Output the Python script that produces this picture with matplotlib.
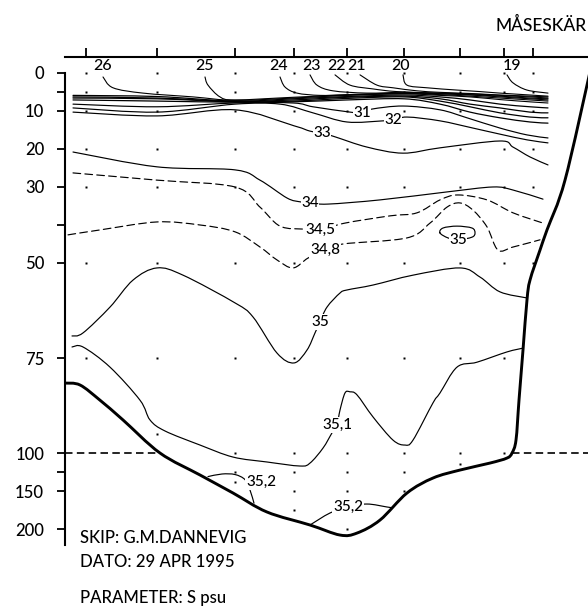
import numpy as np
import matplotlib
matplotlib.use("Agg")
import matplotlib.pyplot as plt
from matplotlib.path import Path
from matplotlib.patches import PathPatch

plt.rcParams['font.family'] = ['Lato', 'DejaVu Sans']
plt.rcParams['font.weight'] = 'medium'

# ---------------- data: section Måseskär, salinity (psu) ----------------
# distance along section (nm) of the CTD stations
stations = [2.1, 9.2, 17.0, 22.9, 28.2, 33.9, 39.5, 43.9, 46.8]
# sampled depths (m) at each station
sample_depths = [
    [0, 5, 10, 20, 30, 50, 75],
    [0, 5, 10, 20, 30, 50, 75, 95],
    [0, 5, 10, 20, 30, 50, 75, 100, 125, 138],
    [0, 5, 10, 20, 30, 50, 75, 100, 125, 150, 175],
    [0, 5, 10, 20, 30, 50, 75, 100, 125, 150, 200],
    [0, 5, 10, 20, 30, 50, 75, 100, 125, 150],
    [0, 5, 10, 20, 30, 50, 75, 100, 115],
    [0, 5, 10, 20, 30, 50, 75, 100],
    [0, 5, 10, 20, 30, 50],
]

# bottom profile and coast
bottom_x = [0.0, 1.5, 3.5, 5.8, 9.5, 13.5, 16.8, 20.2, 24.5, 27.5, 29.2, 31.5, 34.2,
            36.8, 39.5, 42.5, 44.2, 44.7, 45.1, 45.4, 45.8, 46.2, 46.5, 47.5, 48.2,
            50.0, 52.6]
bottom_d = [81.6, 82.1, 86.1, 91.3, 100, 128.9, 152.6, 177.6, 194.7, 207.9, 205.3,
            188.2, 152.6, 132.9, 122.4, 113.2, 106.6, 100, 96.6, 86.1, 72.9, 59.7,
            54.5, 46.6, 41.3, 28.2, -1.5]

# surface layer isohalines 19-26 (start at surface outcrop)
s19_x = [44.2, 44.8, 46.2, 48.3]
s19_d = [0.5, 2.6, 4.5, 5.3]
s20_x = [33.8, 34.2, 36.2, 39.2, 41.5, 43.5, 46.5, 48.3]
s20_d = [0.5, 3.2, 3.9, 4.5, 4.9, 5.3, 5.8, 6.1]
s21_x = [29.5, 31.2, 32.8, 35.2, 37.5, 40.5, 43.5, 46.5, 48.3]
s21_d = [0.5, 3.2, 3.9, 4.7, 5.1, 5.4, 5.8, 6.1, 6.3]
s22_x = [27.0, 28.5, 30.8, 33.2, 37.5, 40.5, 43.5, 46.5, 48.3]
s22_d = [0.5, 3.2, 4.2, 4.9, 5.3, 5.5, 5.9, 6.3, 6.6]
s23_x = [24.5, 25.2, 26.8, 30.2, 33.9, 37.5, 40.5, 43.5, 46.5, 48.3]
s23_d = [0.5, 3.2, 4.7, 5.3, 5.1, 5.4, 5.7, 6.1, 6.6, 6.8]
s24_x = [21.5, 22.0, 23.2, 25.5, 28.2, 33.9, 37.5, 40.5, 43.5, 46.5, 48.3]
s24_d = [1.05, 3.7, 5.3, 5.9, 5.7, 5.3, 5.5, 5.8, 6.3, 6.8, 7.1]
s25_x = [14.0, 14.3, 15.5, 17.0, 22.8, 28.2, 33.9, 37.5, 40.5, 43.5, 46.5, 48.3]
s25_d = [1.05, 3.2, 6.3, 7.1, 6.4, 5.8, 5.4, 5.7, 6.1, 6.6, 7.1, 7.4]
s26_x = [3.8, 4.8, 7.8, 12.8, 17.0, 22.8, 28.2, 33.9, 37.5, 40.5, 43.5, 46.5, 48.3]
s26_d = [1.05, 3.9, 5.3, 6.3, 7.2, 6.6, 5.9, 5.5, 5.9, 6.3, 7.0, 7.6, 7.9]

# isohalines 27-30 across the whole section
band_x = [0.8, 9.2, 17.0, 22.8, 28.2, 33.9, 37.5, 40.5, 43.5, 46.5, 48.3]
s27_d = [5.9, 6.2, 7.4, 6.8, 6.2, 5.8, 6.3, 7.1, 8.2, 8.9, 9.2]
s28_d = [6.3, 6.6, 7.5, 7.1, 6.4, 6.1, 6.8, 8.2, 9.2, 10.3, 10.5]
s29_d = [6.6, 6.8, 7.6, 7.4, 6.7, 6.3, 7.4, 8.9, 10.5, 11.6, 11.8]
s30_d = [7.1, 7.4, 7.7, 7.6, 7.1, 6.8, 8.2, 10.3, 11.8, 12.9, 13.2]

s31_x = [0.8, 9.2, 17.0, 22.8, 24.8, 28.5, 29.7, 30.7, 33.8, 37.5, 40.2, 43.5, 46.2, 48.3]
s31_d = [8.2, 8.9, 7.9, 7.9, 8.9, 10.3, 10.5, 9.5, 8.7, 9.7, 11.8, 14.5, 16.3, 17.1]
s32_x = [0.8, 9.2, 17.0, 21.5, 24.8, 28.2, 31.8, 32.8, 34.2, 37.5, 40.8, 43.5, 46.2, 48.3]
s32_d = [9.2, 10.3, 8.2, 8.2, 10.5, 12.9, 12.6, 12.4, 11.6, 12.6, 14.5, 16.1, 17.6, 18.4]
s33_x = [0.8, 9.2, 17.0, 22.9, 24.5, 25.7, 27.0, 30.2, 33.8, 37.5, 43.5, 44.8, 46.5, 48.3]
s33_d = [10.3, 11.3, 9.7, 13.9, 15.3, 15.8, 16.8, 19.5, 21.1, 19.7, 17.9, 19.5, 22.1, 24.2]
s34_x = [0.8, 9.2, 17.0, 19.5, 22.2, 23.5, 24.5, 26.3, 31.5, 38.2, 42.8, 44.8, 47.8]
s34_d = [20.8, 24.7, 25.5, 28.2, 32.9, 33.9, 34.2, 34.5, 33.4, 31.3, 30.0, 30.8, 33.2]
s345_x = [0.8, 9.2, 17.0, 19.5, 21.5, 24.0, 25.5, 28.0, 32.5, 35.2, 37.5, 39.3, 42.2,
          44.8, 47.8]
s345_d = [26.3, 28.2, 30.0, 35.3, 40.3, 41.1, 41.3, 39.5, 37.6, 36.8, 33.4, 32.1, 33.4,
          36.8, 39.5]
s348_x = [0.3, 3.5, 9.2, 13.5, 17.0, 19.5, 21.2, 22.8, 24.3, 26.0, 27.8, 34.2, 36.5,
          38.2, 39.5, 40.8, 42.2, 43.3, 44.8, 47.5]
s348_d = [42.6, 41.3, 39.2, 40.0, 41.8, 45.8, 49.2, 51.3, 48.7, 46.6, 45.0, 43.4, 39.5,
          35.3, 34.2, 36.1, 40.5, 46.6, 45.8, 43.9]
s35_x = [0.7, 1.8, 4.5, 6.8, 9.2, 11.8, 17.0, 18.8, 21.2, 22.9, 24.2, 25.0, 25.5, 26.2,
         27.5, 28.2, 30.8, 34.8, 39.5, 41.5, 43.5, 46.2]
s35_d = [69.2, 68.4, 61.6, 54.5, 51.3, 53.2, 60.5, 64.2, 73.7, 76.3, 72.9, 68.4, 65.5,
         61.6, 57.9, 57.1, 55.8, 53.2, 51.3, 53.7, 57.6, 59.2]
s35_loop_x = [37.5, 37.8, 39.2, 40.7, 41.0, 40.7, 39.3, 38.3]
s35_loop_d = [42.1, 40.8, 40.3, 40.8, 42.1, 43.2, 43.9, 43.4]
s351_x = [0.7, 1.8, 4.5, 7.5, 8.5, 10.0, 13.5, 16.8, 20.2, 23.5, 24.5, 25.8, 26.7, 27.2,
          27.5, 28.0, 28.5, 29.2, 30.8, 32.8, 34.0, 34.8, 36.8, 37.5, 39.2, 41.2, 44.2,
          45.8]
s351_d = [72.1, 72.1, 77.4, 86.1, 91.3, 94.2, 97.9, 105.3, 111.8, 117.1, 113.2, 98.7,
          94.7, 92.6, 88.7, 84.2, 83.9, 84.7, 90.5, 96.6, 97.9, 96.6, 86.8, 84.2, 77.4,
          76.1, 73.4, 72.4]
s352a_x = [14.3, 15.7, 17.0, 18.0, 18.5, 18.9]
s352a_d = [131.0, 127.6, 128.3, 135.0, 148.7, 166.0]
s352b_x = [24.5, 26.5, 28.3, 30.2, 32.2, 32.7]
s352b_d = [194.7, 178.9, 171.0, 167.1, 171.0, 172.0]

# inline contour labels: (text, distance, depth)
contour_labels = [
    ("31", 29.7, 10.5), ("32", 32.8, 12.4), ("33", 25.7, 15.8), ("34", 24.5, 34.2),
    ("34,5", 25.5, 41.3), ("34,8", 26.0, 46.6), ("35", 39.3, 44.0), ("35", 25.5, 65.5),
    ("35,1", 27.2, 92.6), ("35,2", 19.6, 138.0), ("35,2", 28.3, 171.0),
]
# surface outcrop labels
surface_labels = [("26", 3.8), ("25", 14.0), ("24", 21.4), ("23", 24.7), ("22", 27.2),
                  ("21", 29.2), ("20", 33.6), ("19", 44.7)]

depth_ticks = [0, 5, 10, 20, 30, 40, 50, 75, 100, 125, 150, 200]
depth_ticklabels = ["0", "", "10", "20", "30", "", "50", "75", "100", "", "150", "200"]


# ---------------- depth scale: 0-100 m stretched, below compressed ----------------
def fwd(d):
    d = np.asarray(d, float)
    return np.where(d <= 100, d, 100 + (d - 100) * 0.2)


def inv(s):
    s = np.asarray(s, float)
    return np.where(s <= 100, s, 100 + (s - 100) / 0.2)


fig = plt.figure(figsize=(5.88, 6.11), dpi=100)
ax = fig.add_axes([65 / 588, 1 - 545 / 611, 523 / 588, (545 - 57) / 611])
ax.set_yscale('function', functions=(fwd, inv))
ax.set_xlim(0, 52.3)
ax.set_ylim(221, -4.2)


def curve(x, d, lw=0.8, ls='-', closed=False, zorder=2):
    """Smooth (Catmull-Rom) curve through the given points."""
    P = np.column_stack([np.asarray(x, float), fwd(d)])
    n = len(P)
    verts = [P[0]]
    codes = [Path.MOVETO]
    segs = n if closed else n - 1
    for i in range(segs):
        if closed:
            p0, p1, p2, p3 = P[(i - 1) % n], P[i], P[(i + 1) % n], P[(i + 2) % n]
        else:
            p0 = P[max(i - 1, 0)]
            p1, p2 = P[i], P[i + 1]
            p3 = P[min(i + 2, n - 1)]
        verts += [p1 + (p2 - p0) / 6, p2 - (p3 - p1) / 6, p2]
        codes += [Path.CURVE4] * 3
    V = np.array(verts)
    V[:, 1] = inv(V[:, 1])
    ax.add_patch(PathPatch(Path(V, codes), fill=False, lw=lw, ls=ls, ec='black',
                           zorder=zorder, capstyle='round', joinstyle='round'))


# surface isohalines
for xs, ds in [(s19_x, s19_d), (s20_x, s20_d), (s21_x, s21_d), (s22_x, s22_d),
               (s23_x, s23_d), (s24_x, s24_d), (s25_x, s25_d), (s26_x, s26_d)]:
    curve(xs, ds, lw=0.8)
for ds in [s27_d, s28_d, s29_d, s30_d]:
    curve(band_x, ds, lw=0.9)

for xs, ds in [(s31_x, s31_d), (s32_x, s32_d), (s33_x, s33_d), (s34_x, s34_d),
               (s35_x, s35_d), (s351_x, s351_d), (s352a_x, s352a_d), (s352b_x, s352b_d)]:
    curve(xs, ds, lw=0.85)
dash = (0, (6.5, 3.6))
curve(s345_x, s345_d, lw=0.85, ls=dash)
curve(s348_x, s348_d, lw=0.85, ls=dash)
curve(s35_loop_x, s35_loop_d, lw=0.85, closed=True)

# bottom / coast
curve(bottom_x, bottom_d, lw=2.1, zorder=4)

# 100 m reference line outside the section
ax.plot([0, bottom_x[4]], [100, 100], color='black', lw=1.2, ls=(0, (4.5, 2.6)), zorder=3)
ax.plot([bottom_x[17], 52.3], [100, 100], color='black', lw=1.2, ls=(0, (4.5, 2.6)),
        zorder=3, clip_on=False)

# sample points
for xs, ds in zip(stations, sample_depths):
    ax.plot([xs] * len(ds), ds, ls='none', marker='s', ms=1.8, mfc='black', mec='none',
            zorder=3)

# labels
for txt, xs, ds in contour_labels:
    ax.text(xs, ds, txt, ha='center', va='center', fontsize=11, zorder=5,
            bbox=dict(fc='white', ec='none', pad=0.4))
for txt, xs in surface_labels:
    ax.text(xs, -1.8, txt, ha='center', va='center', fontsize=11.5, zorder=5)

# axes styling
for side in ['right', 'bottom']:
    ax.spines[side].set_visible(False)
ax.spines['left'].set_bounds(0, 221)
ax.spines['left'].set_linewidth(1.5)
ax.spines['top'].set_linewidth(1.5)
ax.set_yticks(depth_ticks)
ax.set_yticklabels(depth_ticklabels)
ax.yaxis.set_minor_locator(matplotlib.ticker.NullLocator())
ax.tick_params(axis='y', direction='out', length=6, width=1.3, pad=9, labelsize=12)
ax.xaxis.tick_top()
ax.set_xticks(stations)
ax.set_xticklabels([])
ax.tick_params(axis='x', direction='out', length=6.5, width=1.3)

fig.text(587 / 588, 1 - 25 / 611, "MÅSESKÄR", ha='right', va='center', fontsize=12.5)
fig.text(80 / 588, 1 - 538 / 611, "SKIP: G.M.DANNEVIG", ha='left', va='center', fontsize=12)
fig.text(80 / 588, 1 - 562 / 611, "DATO: 29 APR 1995", ha='left', va='center', fontsize=12)
fig.text(80 / 588, 1 - 598 / 611, "PARAMETER: S psu", ha='left', va='center', fontsize=12)

fig.savefig("out.png", dpi=100)
